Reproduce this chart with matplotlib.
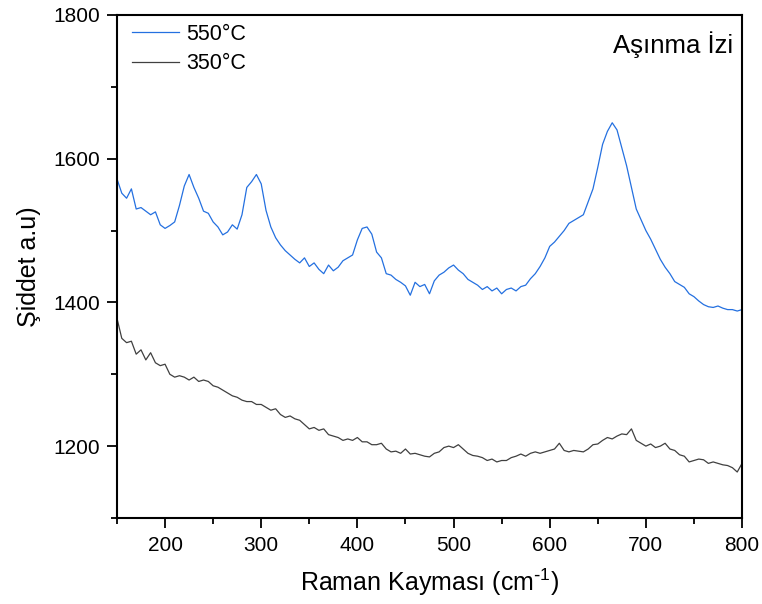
import numpy as np
import matplotlib
matplotlib.use("Agg")
import matplotlib.pyplot as plt
from matplotlib.ticker import MultipleLocator

plt.rcParams['font.family'] = ['Liberation Sans', 'DejaVu Sans']
plt.rcParams['mathtext.default'] = 'regular'

# Raman shift axis, read every 5 cm-1
shift = np.arange(150, 801, 5)

# 550°C spectrum (blue)
i_550 = [1572, 1552, 1545, 1558, 1530, 1532, 1527, 1522, 1526, 1508,
         1503, 1507, 1512, 1535, 1562, 1578, 1560, 1545, 1527, 1524,
         1512, 1505, 1494, 1498, 1508, 1502, 1522, 1560, 1568, 1578,
         1565, 1528, 1505, 1490, 1480, 1472, 1466, 1460, 1455, 1462,
         1450, 1455, 1446, 1440, 1452, 1444, 1449, 1458, 1462, 1466,
         1487, 1503, 1505, 1495, 1470, 1462, 1440, 1438, 1432, 1428,
         1423, 1410, 1428, 1422, 1425, 1412, 1430, 1438, 1442, 1448,
         1452, 1445, 1440, 1432, 1428, 1424, 1418, 1422, 1416, 1420,
         1412, 1418, 1420, 1416, 1422, 1424, 1433, 1440, 1450, 1462,
         1478, 1484, 1492, 1500, 1510, 1514, 1518, 1522, 1540, 1558,
         1588, 1620, 1638, 1650, 1640, 1615, 1590, 1560, 1530, 1515,
         1500, 1488, 1474, 1460, 1449, 1440, 1429, 1425, 1421, 1412,
         1408, 1402, 1397, 1394, 1393, 1395, 1392, 1390, 1390, 1388,
         1390]

# 350°C spectrum (dark grey)
i_350 = [1378, 1350, 1344, 1346, 1328, 1334, 1320, 1330, 1316, 1312,
         1314, 1300, 1296, 1298, 1296, 1292, 1296, 1290, 1292, 1290,
         1284, 1282, 1278, 1274, 1270, 1268, 1264, 1262, 1262, 1258,
         1258, 1254, 1250, 1252, 1244, 1240, 1242, 1238, 1236, 1230,
         1224, 1226, 1222, 1224, 1216, 1214, 1212, 1208, 1210, 1208,
         1212, 1206, 1206, 1202, 1202, 1204, 1196, 1192, 1193, 1190,
         1196, 1189, 1190, 1188, 1186, 1185, 1190, 1192, 1198, 1200,
         1198, 1202, 1196, 1190, 1187, 1186, 1184, 1180, 1182, 1178,
         1180, 1180, 1184, 1186, 1189, 1186, 1190, 1192, 1190, 1192,
         1194, 1196, 1204, 1194, 1192, 1194, 1193, 1192, 1196, 1202,
         1203, 1208, 1212, 1210, 1214, 1217, 1216, 1224, 1208, 1204,
         1200, 1203, 1198, 1200, 1204, 1196, 1194, 1188, 1186, 1178,
         1180, 1182, 1181, 1176, 1178, 1176, 1174, 1173, 1170, 1164,
         1176]

fig = plt.figure(figsize=(7.62, 6.04), dpi=100)
ax = fig.add_axes([0.1535, 0.1424, 0.8203, 0.8328])

ax.plot(shift, i_550, color='#2470e0', lw=0.9, label='550°C')
ax.plot(shift, i_350, color='#404040', lw=0.9, label='350°C')

ax.set_xlim(150, 800)
ax.set_ylim(1100, 1800)
ax.xaxis.set_major_locator(MultipleLocator(100))
ax.xaxis.set_minor_locator(MultipleLocator(50))
ax.yaxis.set_major_locator(MultipleLocator(200))
ax.yaxis.set_minor_locator(MultipleLocator(100))
ax.tick_params(which='major', direction='out', length=7, width=1.3, labelsize=15)
ax.tick_params(which='minor', direction='out', length=4.5, width=1.3)
ax.tick_params(axis='x', which='major', pad=6)
ax.tick_params(axis='y', which='major', pad=5)
ax.tick_params(top=False, right=False)
for s in ax.spines.values():
    s.set_linewidth(1.5)

ax.set_xlabel(r'Raman Kayması (cm$^{\text{-}1}$)', fontsize=18, labelpad=8)
ax.set_ylabel('Şiddet a.u)', fontsize=18, labelpad=9)

ax.text(0.985, 0.968, 'Aşınma İzi', transform=ax.transAxes,
        ha='right', va='top', fontsize=18.5)

ax.legend(loc='upper left', frameon=False, fontsize=15.5, handlelength=2.2,
          handletextpad=0.33, labelspacing=0.38, borderaxespad=0.3,
          bbox_to_anchor=(0.0, 1.012))

fig.savefig('out.png', dpi=100)
